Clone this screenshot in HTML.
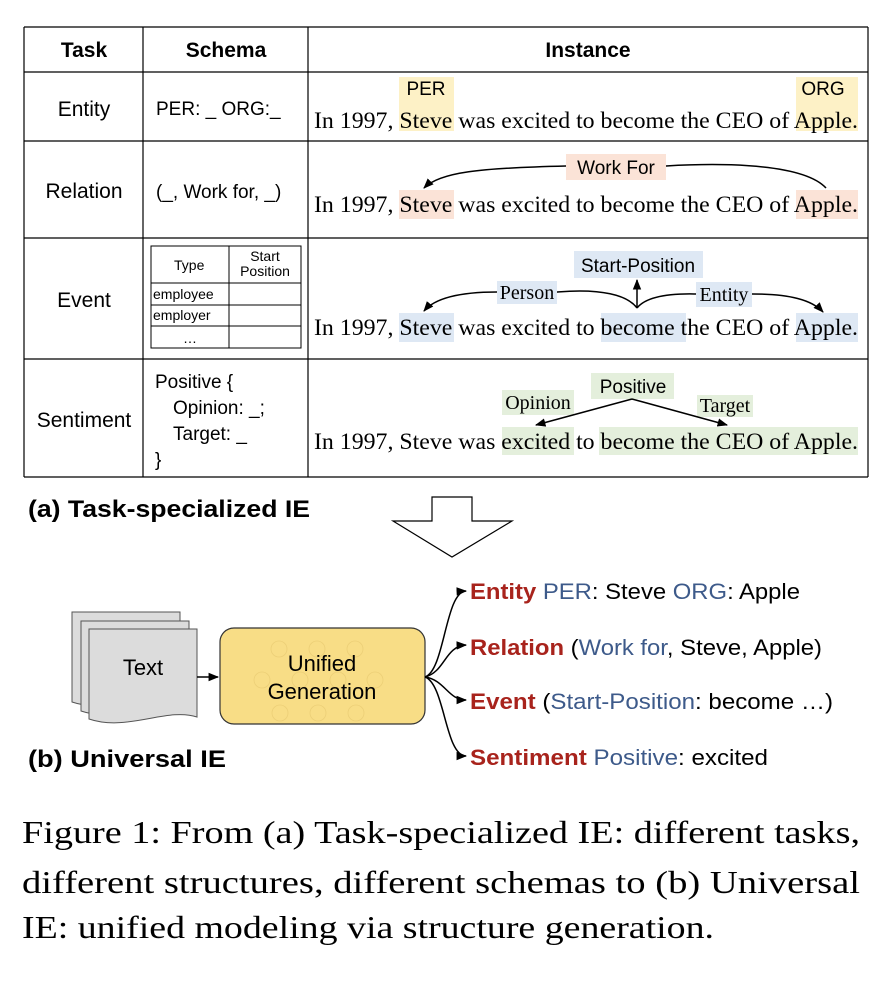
<!DOCTYPE html>
<html><head><meta charset="utf-8"><style>
body{margin:0;background:#fff}
svg{display:block}
.sf{font-family:'Liberation Serif','Times New Roman',Times,'Nimbus Roman',serif}
</style></head><body>
<svg width="896" height="984" viewBox="0 0 896 984">
<g stroke="#000" stroke-width="1.2" fill="none">
<line x1="24" y1="27" x2="868" y2="27"/><line x1="24" y1="72" x2="868" y2="72"/>
<line x1="24" y1="141" x2="868" y2="141"/><line x1="24" y1="238" x2="868" y2="238"/>
<line x1="24" y1="359" x2="868" y2="359"/><line x1="24" y1="477" x2="868" y2="477"/>
<line x1="24" y1="27" x2="24" y2="477"/><line x1="143" y1="27" x2="143" y2="477"/>
<line x1="308" y1="27" x2="308" y2="477"/><line x1="868" y1="27" x2="868" y2="477"/>
</g>
<g font-family="Liberation Sans, Arial, sans-serif" font-size="21" text-anchor="middle">
<text x="84" y="57" font-weight="bold">Task</text>
<text x="226" y="57" font-weight="bold">Schema</text>
<text x="588" y="57" font-weight="bold">Instance</text>
<text x="84" y="116">Entity</text>
<text x="84" y="198">Relation</text>
<text x="84" y="307">Event</text>
<text x="84" y="427">Sentiment</text>
</g>
<g font-family="Liberation Sans, Arial, sans-serif" font-size="19">
<text x="156" y="115">PER: _ ORG:_</text>
<text x="156" y="198">(_, Work for, _)</text>
<text x="155" y="388">Positive {</text>
<text x="173" y="414">Opinion: _;</text>
<text x="173" y="440">Target: _</text>
<text x="155" y="466">}</text>
</g>
<g>
<g stroke="#000" stroke-width="1" fill="none">
<rect x="151" y="246" width="150" height="102"/>
<line x1="229" y1="246" x2="229" y2="348"/>
<line x1="151" y1="283" x2="301" y2="283"/><line x1="151" y1="305" x2="301" y2="305"/><line x1="151" y1="326" x2="301" y2="326"/>
</g>
<g font-family="Liberation Sans, Arial, sans-serif" font-size="14">
<text x="174" y="270">Type</text>
<text x="265" y="261" text-anchor="middle">Start</text>
<text x="265" y="276" text-anchor="middle">Position</text>
<text x="153" y="299">employee</text>
<text x="153" y="320">employer</text>
<text x="190" y="343" text-anchor="middle">…</text>
</g></g>
<g>
<rect x="399" y="77" width="55" height="54" fill="#fdf1c6"/>
<rect x="796" y="77" width="62" height="54" fill="#fdf1c6"/>
<rect x="399" y="190" width="55" height="29" fill="#fbe3d7"/>
<rect x="796" y="190" width="62" height="29" fill="#fbe3d7"/>
<rect x="566" y="154" width="100" height="26" fill="#fbe3d7"/>
<rect x="399" y="313" width="55" height="29" fill="#dee8f4"/>
<rect x="601" y="313" width="85" height="29" fill="#dee8f4"/>
<rect x="796" y="313" width="62" height="29" fill="#dee8f4"/>
<rect x="574" y="251" width="129" height="27" fill="#dee8f4"/>
<rect x="497" y="281" width="60" height="23" fill="#dee8f4"/>
<rect x="696" y="282" width="56" height="25" fill="#dee8f4"/>
<rect x="502" y="427" width="72" height="28" fill="#e4efdc"/>
<rect x="599" y="427" width="259" height="28" fill="#e4efdc"/>
<rect x="591" y="373" width="83" height="26" fill="#e4efdc"/>
<rect x="502" y="390" width="72" height="25" fill="#e4efdc"/>
<rect x="697" y="395" width="56" height="22" fill="#e4efdc"/>
</g>
<g class="sf" font-size="23">
<text x="314" y="128" textLength="544" lengthAdjust="spacingAndGlyphs">In 1997, Steve was excited to become the CEO of Apple.</text>
<text x="314" y="212" textLength="544" lengthAdjust="spacingAndGlyphs">In 1997, Steve was excited to become the CEO of Apple.</text>
<text x="314" y="335" textLength="544" lengthAdjust="spacingAndGlyphs">In 1997, Steve was excited to become the CEO of Apple.</text>
<text x="314" y="449" textLength="544" lengthAdjust="spacingAndGlyphs">In 1997, Steve was excited to become the CEO of Apple.</text>
</g>
<defs><marker id="ah" viewBox="0 0 10 10" refX="9" refY="5" markerWidth="7" markerHeight="7" orient="auto"><path d="M0,1 L10,5 L0,9 z" fill="#000"/></marker></defs>
<g stroke="#000" stroke-width="1.5" fill="none">
<path d="M826,188 C800,160 700,164 666,166"/>
<path d="M566,166 C480,168 440,172 424,188" marker-end="url(#ah)"/>
<path d="M637,308 C620,285 560,292 557,292"/>
<path d="M497,292 C460,292 435,298 424,311" marker-end="url(#ah)"/>
<line x1="637" y1="308" x2="637" y2="280" marker-end="url(#ah)"/>
<path d="M637,308 C650,292 690,294 696,294"/>
<path d="M752,294 C790,294 812,300 823,312" marker-end="url(#ah)"/>
<line x1="632" y1="399" x2="536" y2="425" marker-end="url(#ah)"/>
<line x1="632" y1="399" x2="727" y2="425" marker-end="url(#ah)"/>
</g>
<g>
<text font-family="Liberation Sans, Arial, sans-serif" font-size="19" x="426" y="95" text-anchor="middle">PER</text>
<text font-family="Liberation Sans, Arial, sans-serif" font-size="19" x="823" y="95" text-anchor="middle">ORG</text>
<text font-family="Liberation Sans, Arial, sans-serif" font-size="19" x="616" y="174" text-anchor="middle">Work For</text>
<text font-family="Liberation Sans, Arial, sans-serif" font-size="19" x="638" y="272" text-anchor="middle">Start-Position</text>
<text class="sf" font-size="20" x="527" y="299" text-anchor="middle">Person</text>
<text class="sf" font-size="20" x="724" y="301" text-anchor="middle">Entity</text>
<text font-family="Liberation Sans, Arial, sans-serif" font-size="19" x="633" y="393" text-anchor="middle">Positive</text>
<text class="sf" font-size="20" x="538" y="409" text-anchor="middle">Opinion</text>
<text class="sf" font-size="20" x="725" y="412" text-anchor="middle">Target</text>
</g>
<text x="28" y="517" font-family="Liberation Sans, Arial, sans-serif" font-weight="bold" font-size="24" textLength="282" lengthAdjust="spacingAndGlyphs">(a) Task-specialized IE</text>
<path d="M432,497 L472,497 L472,521 L512,521 L452,557 L393,521 L432,521 Z" fill="#fff" stroke="#000" stroke-width="1.2"/>
<g fill="#dcdcdc" stroke="#555" stroke-width="1">
<path d="M72,612 L180,612 L180,700 C150,690 110,715 72,702 Z"/>
<path d="M81,621 L189,621 L189,709 C159,699 119,724 81,711 Z"/>
<path d="M89,629 L197,629 L197,717 C167,707 127,732 89,719 Z"/>
</g>
<text font-family="Liberation Sans, Arial, sans-serif" font-size="22" x="143" y="675" text-anchor="middle">Text</text>
<line x1="197" y1="677" x2="218" y2="677" stroke="#000" stroke-width="1.5" marker-end="url(#ah)"/>
<rect x="220" y="628" width="205" height="96" rx="14" fill="#f8dd86" stroke="#333" stroke-width="1.2"/>
<g fill="none" stroke="#eccf77" stroke-width="0.8">
<circle cx="279" cy="649" r="8"/><circle cx="317" cy="649" r="8"/><circle cx="355" cy="649" r="8"/>
<circle cx="262" cy="680" r="8"/><circle cx="300" cy="680" r="8"/><circle cx="338" cy="680" r="8"/><circle cx="375" cy="680" r="8"/>
<circle cx="280" cy="713" r="8"/><circle cx="318" cy="713" r="8"/><circle cx="356" cy="713" r="8"/>
</g>
<text font-family="Liberation Sans, Arial, sans-serif" font-size="22" x="322" y="671" text-anchor="middle">Unified</text>
<text font-family="Liberation Sans, Arial, sans-serif" font-size="22" x="322" y="699" text-anchor="middle">Generation</text>
<g stroke="#000" stroke-width="1.5" fill="none">
<path d="M425,677 C445,670 445,592 466,591" marker-end="url(#ah)"/>
<path d="M425,677 C445,672 445,646 466,645" marker-end="url(#ah)"/>
<path d="M425,677 C445,680 448,700 466,700" marker-end="url(#ah)"/>
<path d="M425,677 C445,684 445,756 466,756" marker-end="url(#ah)"/>
</g>
<g font-family="Liberation Sans, Arial, sans-serif" font-size="22">
<text x="470" y="599" textLength="330" lengthAdjust="spacingAndGlyphs"><tspan fill="#a8231c" font-weight="bold">Entity</tspan> <tspan fill="#3d5a8a">PER</tspan>: Steve <tspan fill="#3d5a8a">ORG</tspan>: Apple</text>
<text x="470" y="655" textLength="352" lengthAdjust="spacingAndGlyphs"><tspan fill="#a8231c" font-weight="bold">Relation</tspan> (<tspan fill="#3d5a8a">Work for</tspan>, Steve, Apple)</text>
<text x="470" y="709" textLength="363" lengthAdjust="spacingAndGlyphs"><tspan fill="#a8231c" font-weight="bold">Event</tspan>  (<tspan fill="#3d5a8a">Start-Position</tspan>: become …)</text>
<text x="470" y="765" textLength="298" lengthAdjust="spacingAndGlyphs"><tspan fill="#a8231c" font-weight="bold">Sentiment</tspan>  <tspan fill="#3d5a8a">Positive</tspan>: excited</text>
</g>
<text x="28" y="767" font-family="Liberation Sans, Arial, sans-serif" font-weight="bold" font-size="24" textLength="198" lengthAdjust="spacingAndGlyphs">(b) Universal IE</text>
<g class="sf" font-size="32">
<text x="22" y="843" textLength="838" lengthAdjust="spacingAndGlyphs">Figure 1: From (a) Task-specialized IE: different tasks,</text>
<text x="22" y="893" textLength="838" lengthAdjust="spacingAndGlyphs">different structures, different schemas to (b) Universal</text>
<text x="22" y="938" textLength="692" lengthAdjust="spacingAndGlyphs">IE: unified modeling via structure generation.</text>
</g>
</svg>
</body></html>
